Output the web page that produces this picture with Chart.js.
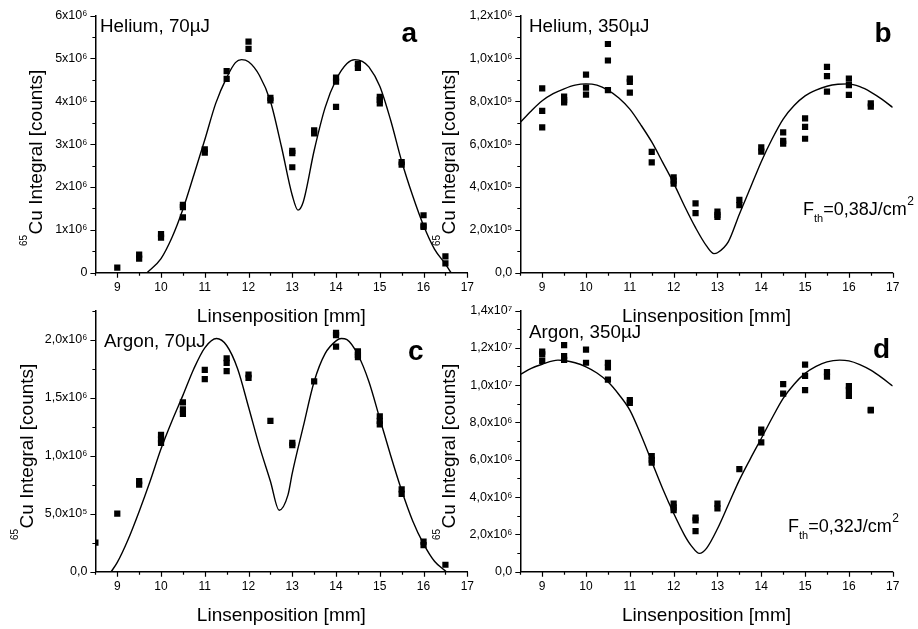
<!DOCTYPE html>
<html><head><meta charset="utf-8">
<script src="https://cdn.jsdelivr.net/npm/chart.js@4"></script>
<style>
html,body{margin:0;padding:0;background:#fff;}
#wrap{position:relative;width:918px;height:629px;overflow:hidden;background:#fff;}
canvas{position:absolute;left:0;top:0;}
</style></head><body>
<div id="wrap">
<canvas id="ca" width="918" height="629"></canvas>
<canvas id="cb" width="918" height="629"></canvas>
<canvas id="cc" width="918" height="629"></canvas>
<canvas id="cd" width="918" height="629"></canvas>
</div>
<script>
// ---------- data ----------
const xTickValues = [9, 10, 11, 12, 13, 14, 15, 16, 17];
const xTickLabels = ['9','10','11','12','13','14','15','16','17'];

// Panel a: Helium, 70µJ
const posA = [9, 9.5,9.5, 10,10, 10.5,10.5,10.5, 11,11, 11.5,11.5, 12,12, 12.5,12.5, 13,13,13, 13.5,13.5, 14,14,14, 14.5,14.5, 15,15,15, 15.5,15.5, 16,16,16, 16.5,16.5];
const countsA = [0.12e6, 0.42e6,0.33e6, 0.90e6,0.82e6, 1.58e6,1.53e6,1.29e6, 2.88e6,2.80e6, 4.70e6,4.52e6, 5.39e6,5.22e6, 4.08e6,4.02e6, 2.84e6,2.79e6,2.46e6, 3.32e6,3.25e6, 4.55e6,4.46e6,3.87e6, 4.87e6,4.78e6, 4.10e6,4.03e6,3.95e6, 2.58e6,2.52e6, 1.34e6,1.10e6,1.07e6, 0.38e6,0.22e6];
const fitPosA = [9.68,10,10.25,10.5,10.75,11,11.25,11.5,11.7,11.84,12,12.25,12.5,12.75,13,13.13,13.25,13.5,13.75,14,14.25,14.43,14.6,14.75,15,15.25,15.5,15.75,16,16.25,16.5,16.63];
const fitA = [0,0.33e6,0.82e6,1.48e6,2.28e6,3.1e6,3.95e6,4.55e6,4.9e6,4.97e6,4.92e6,4.6e6,4.0e6,2.95e6,1.8e6,1.46e6,1.65e6,2.85e6,3.85e6,4.5e6,4.88e6,4.97e6,4.93e6,4.8e6,4.35e6,3.55e6,2.6e6,1.8e6,1.1e6,0.55e6,0.2e6,0];
const yTickValuesA = [0, 1e6, 2e6, 3e6, 4e6, 5e6, 6e6];
const yTickLabelsA = ['0','1x10⁶','2x10⁶','3x10⁶','4x10⁶','5x10⁶','6x10⁶'];

// Panel b: Helium, 350µJ
const posB = [9,9,9, 9.5,9.5,9.5, 10,10,10, 10.5,10.5,10.5, 11,11,11, 11.5,11.5, 12,12,12, 12.5,12.5, 13,13,13, 13.5,13.5, 14,14, 14.5,14.5,14.5, 15,15,15, 15.5,15.5,15.5, 16,16,16, 16.5,16.5];
const countsB = [8.60e5,7.55e5,6.78e5, 8.22e5,8.05e5,7.95e5, 9.24e5,8.63e5,8.31e5, 10.67e5,9.90e5,8.52e5, 9.05e5,8.90e5,8.40e5, 5.64e5,5.15e5, 4.45e5,4.30e5,4.15e5, 3.23e5,2.78e5, 2.85e5,2.70e5,2.60e5, 3.40e5,3.15e5, 5.85e5,5.65e5, 6.55e5,6.15e5,6.02e5, 7.20e5,6.80e5,6.25e5, 9.60e5,9.17e5,8.45e5, 9.05e5,8.75e5,8.30e5, 7.90e5,7.75e5];
const fitPosB = [8.5,8.75,9,9.25,9.5,9.75,10,10.25,10.5,10.75,11,11.25,11.5,11.75,12,12.25,12.5,12.75,12.92,13.0,13.25,13.5,13.75,14,14.25,14.5,14.75,15,15.25,15.5,15.75,15.98,16.25,16.5,16.75,17];
const fitB = [7.02e5,7.55e5,8.02e5,8.35e5,8.58e5,8.75e5,8.81e5,8.75e5,8.52e5,8.15e5,7.63e5,6.9e5,6.1e5,5.15e5,4.18e5,3.1e5,2.1e5,1.25e5,0.89e5,0.93e5,1.45e5,2.73e5,3.95e5,5.18e5,6.25e5,7.17e5,7.8e5,8.25e5,8.52e5,8.7e5,8.79e5,8.81e5,8.68e5,8.43e5,8.1e5,7.71e5];
const yTickValuesB = [0, 2e5, 4e5, 6e5, 8e5, 1e6, 1.2e6];
const yTickLabelsB = ['0,0','2,0x10⁵','4,0x10⁵','6,0x10⁵','8,0x10⁵','1,0x10⁶','1,2x10⁶'];

// Panel c: Argon, 70µJ
const posC = [8.5, 9, 9.5,9.5, 10,10,10, 10.5,10.5,10.5, 11,11, 11.5,11.5,11.5, 12,12, 12.5, 13,13, 13.5, 14,14,14, 14.5,14.5,14.5, 15,15,15, 15.5,15.5, 16,16, 16.5];
const countsC = [0.25e6, 0.50e6, 0.78e6,0.75e6, 1.18e6,1.14e6,1.11e6, 1.46e6,1.40e6,1.36e6, 1.74e6,1.66e6, 1.84e6,1.80e6,1.73e6, 1.70e6,1.67e6, 1.30e6, 1.11e6,1.09e6, 1.64e6, 2.06e6,2.04e6,1.94e6, 1.90e6,1.87e6,1.85e6, 1.34e6,1.30e6,1.27e6, 0.71e6,0.67e6, 0.26e6,0.23e6, 0.06e6];
const fitPosC = [8.86,9,9.25,9.5,9.75,10,10.25,10.5,10.75,11,11.27,11.5,11.75,12,12.25,12.5,12.7,12.9,13,13.25,13.5,13.75,14,14.12,14.25,14.5,14.75,15,15.25,15.5,15.75,16,16.25,16.52];
const fitC = [0,0.08e6,0.28e6,0.52e6,0.78e6,1.06e6,1.3e6,1.52e6,1.75e6,1.93e6,2.01e6,1.95e6,1.75e6,1.42e6,1.08e6,0.78e6,0.53e6,0.66e6,0.85e6,1.25e6,1.64e6,1.88e6,1.99e6,2.01e6,2.0e6,1.87e6,1.64e6,1.32e6,1.0e6,0.7e6,0.44e6,0.24e6,0.09e6,0];
const yTickValuesC = [0, 0.5e6, 1e6, 1.5e6, 2e6];
const yTickLabelsC = ['0,0','5,0x10⁵','1,0x10⁶','1,5x10⁶','2,0x10⁶'];

// Panel d: Argon, 350µJ
const posD = [9,9,9, 9.5,9.5,9.5, 10,10, 10.5,10.5,10.5, 11,11, 11.5,11.5,11.5, 12,12,12, 12.5,12.5,12.5, 13,13, 13.5, 14,14,14, 14.5,14.5, 15,15,15, 15.5,15.5, 16,16,16, 16.5,16.5];
const countsD = [11.80e6,11.65e6,11.30e6, 12.15e6,11.55e6,11.35e6, 11.90e6,11.20e6, 11.20e6,10.95e6,10.30e6, 9.20e6,9.05e6, 6.20e6,6.00e6,5.85e6, 3.65e6,3.45e6,3.30e6, 2.90e6,2.75e6,2.18e6, 3.65e6,3.40e6, 5.50e6, 7.62e6,7.45e6,6.93e6, 10.05e6,9.55e6, 11.10e6,10.50e6,9.73e6, 10.70e6,10.45e6, 9.95e6,9.75e6,9.42e6, 8.68e6,8.64e6];
const fitPosD = [8.5,8.75,9,9.36,9.5,9.75,10,10.25,10.5,10.75,11,11.25,11.5,11.75,12,12.25,12.4,12.59,12.75,13,13.25,13.5,13.75,14,14.25,14.5,14.75,15,15.25,15.5,15.79,16,16.25,16.5,16.75,17];
const fitD = [10.57e6,10.9e6,11.12e6,11.34e6,11.32e6,11.2e6,10.98e6,10.65e6,10.18e6,9.5e6,8.66e6,7.35e6,5.9e6,4.45e6,3.13e6,1.95e6,1.4e6,0.98e6,1.25e6,2.3e6,3.6e6,4.91e6,6.05e6,7.14e6,8.25e6,9.29e6,10.05e6,10.63e6,11.0e6,11.25e6,11.34e6,11.3e6,11.1e6,10.8e6,10.4e6,9.95e6];
const yTickValuesD = [0, 2e6, 4e6, 6e6, 8e6, 1e7, 1.2e7, 1.4e7];
const yTickLabelsD = ['0,0','2,0x10⁶','4,0x10⁶','6,0x10⁶','8,0x10⁶','1,0x10⁷','1,2x10⁷','1,4x10⁷'];

// ---------- drawing ----------
const FF = "'Liberation Sans', Arial, Helvetica, sans-serif";
Chart.defaults.font.family = FF;
Chart.defaults.color = '#000';

const tickMarks = {
  id: 'tickMarks',
  afterDraw(chart, args, o) {
    const ctx = chart.ctx, xs = chart.scales.x, ys = chart.scales.y, a = chart.chartArea;
    const isMult = (v, s) => Math.abs(v / s - Math.round(v / s)) < 1e-6;
    ctx.save();
    ctx.strokeStyle = '#000'; ctx.lineWidth = 1.2;
    ctx.beginPath();
    const nx = Math.round((xs.max - xs.min) / o.xMinor);
    for (let i = 0; i <= nx; i++) {
      const v = xs.min + i * o.xMinor;
      const px = Math.round(xs.getPixelForValue(v)) + 0.5;
      const len = isMult(v, o.xMajor) ? 5 : 3;
      ctx.moveTo(px, a.bottom); ctx.lineTo(px, a.bottom + len);
    }
    const ny = Math.round((ys.max - ys.min) / o.yMinor);
    for (let i = 0; i <= ny; i++) {
      const v = ys.min + i * o.yMinor;
      const py = Math.round(ys.getPixelForValue(v)) + 0.5;
      const len = isMult(v, o.yMajor) ? 5 : 3;
      ctx.moveTo(a.left, py); ctx.lineTo(a.left - len, py);
    }
    ctx.stroke();
    ctx.restore();
  }
};

const panelText = {
  id: 'panelText',
  afterDraw(chart, args, o) {
    const ctx = chart.ctx, a = chart.chartArea;
    ctx.save();
    ctx.fillStyle = '#000'; ctx.textBaseline = 'alphabetic'; ctx.textAlign = 'left';
    ctx.font = `18.8px ${FF}`;
    ctx.fillText(o.label, o.labelX, o.labelY);
    ctx.font = `bold 28px ${FF}`;
    ctx.fillText(o.letter, o.letterX, o.letterY);
    if (o.fth) {
      let x = o.fthX; const y = o.fthY;
      ctx.font = `18px ${FF}`; ctx.fillText('F', x, y); x += ctx.measureText('F').width;
      ctx.font = `11px ${FF}`; ctx.fillText('th', x, y + 7); x += ctx.measureText('th').width;
      ctx.font = `18px ${FF}`; ctx.fillText(o.fth, x, y); x += ctx.measureText(o.fth).width;
      ctx.font = `12px ${FF}`; ctx.fillText('2', x + 0.5, y - 10);
    }
    ctx.font = `19px ${FF}`; ctx.textAlign = 'center';
    ctx.fillText(o.xTitle, (a.left + a.right) / 2, a.bottom + 49);
    ctx.translate(o.yTitleX, o.yTitleY);
    ctx.rotate(-Math.PI / 2);
    ctx.textAlign = 'left';
    ctx.font = `10px ${FF}`;
    const w0 = ctx.measureText(o.ySup).width;
    ctx.fillText(o.ySup, 0, -15);
    ctx.font = `19px ${FF}`;
    ctx.fillText(o.yMain, w0 + 0.5, 0);
    ctx.restore();
  }
};

function makePanel(id, p) {
  return new Chart(document.getElementById(id), {
    type: 'scatter',
    data: {
      datasets: [
        {
          type: 'line',
          data: p.fitPos.map((x, i) => ({ x: x, y: p.fit[i] })),
          borderColor: '#000', borderWidth: 1.4, pointRadius: 0, fill: false,
          cubicInterpolationMode: 'monotone'
        },
        {
          type: 'scatter',
          data: p.pos.map((x, i) => ({ x: x, y: p.counts[i] })),
          pointStyle: 'rect', pointRadius: 4.4,
          pointBackgroundColor: '#000', pointBorderColor: '#000', pointBorderWidth: 0,
          clip: 0
        }
      ]
    },
    options: {
      responsive: false, animation: false, devicePixelRatio: 1,
      layout: { padding: p.pad },
      events: [],
      plugins: {
        legend: { display: false }, tooltip: { enabled: false },
        tickMarks: { xMajor: 1, xMinor: 0.5, yMajor: p.yStep, yMinor: p.yMinor },
        panelText: p.text
      },
      scales: {
        x: {
          type: 'linear', min: 8.5, max: 17,
          afterFit(s) { s.height = 30; },
          afterBuildTicks(s) { s.ticks = xTickValues.map(v => ({ value: v })); },
          grid: { display: false, drawTicks: false },
          border: { display: true, color: '#000', width: 1.5 },
          ticks: {
            autoSkip: false, maxRotation: 0, minRotation: 0, padding: 8,
            color: '#000', font: { size: 12 },
            callback: (v) => { const i = xTickValues.indexOf(v); return i >= 0 ? xTickLabels[i] : ''; }
          }
        },
        y: {
          type: 'linear', min: 0, max: p.yMax,
          afterFit(s) { s.width = 60; },
          afterBuildTicks(s) { s.ticks = p.yTicks.map(v => ({ value: v })); },
          grid: { display: false, drawTicks: false },
          border: { display: true, color: '#000', width: 1.5 },
          ticks: {
            autoSkip: false, padding: 8, color: '#000', font: { size: 12.5 },
            callback: (v) => {
              const i = p.yTicks.findIndex(t => Math.abs(t - v) < 1e-6 * p.yStep);
              return i >= 0 ? p.yLabels[i] : '';
            }
          }
        }
      }
    },
    plugins: [tickMarks, panelText]
  });
}

const X_TITLE = 'Linsenposition [mm]';
makePanel('ca', {
  pos: posA, counts: countsA, fitPos: fitPosA, fit: fitA,
  yMax: 6e6, yStep: 1e6, yMinor: 0.5e6, yTicks: yTickValuesA, yLabels: yTickLabelsA,
  pad: { left: 35.4, right: 450.7, top: 11.7, bottom: 326.3 },
  text: { label: 'Helium, 70µJ', labelX: 100, labelY: 32.3, letter: 'a', letterX: 401.5, letterY: 41.5,
          xTitle: X_TITLE, yTitleX: 41.7, yTitleY: 246, ySup: '65', yMain: 'Cu Integral [counts]' }
});
makePanel('cb', {
  pos: posB, counts: countsB, fitPos: fitPosB, fit: fitB,
  yMax: 1.2e6, yStep: 2e5, yMinor: 1e5, yTicks: yTickValuesB, yLabels: yTickLabelsB,
  pad: { left: 460.3, right: 25.3, top: 11.7, bottom: 326.3 },
  text: { label: 'Helium, 350µJ', labelX: 529, labelY: 32.3, letter: 'b', letterX: 874.5, letterY: 41.5,
          fth: '=0,38J/cm', fthX: 803, fthY: 215,
          xTitle: X_TITLE, yTitleX: 455, yTitleY: 246, ySup: '65', yMain: 'Cu Integral [counts]' }
});
makePanel('cc', {
  pos: posC, counts: countsC, fitPos: fitPosC, fit: fitC,
  yMax: 2.25e6, yStep: 5e5, yMinor: 2.5e5, yTicks: yTickValuesC, yLabels: yTickLabelsC,
  pad: { left: 35.4, right: 450.7, top: 310.7, bottom: 27.3 },
  text: { label: 'Argon, 70µJ', labelX: 104, labelY: 346.7, letter: 'c', letterX: 408, letterY: 360,
          xTitle: X_TITLE, yTitleX: 33.3, yTitleY: 540, ySup: '65', yMain: 'Cu Integral [counts]' }
});
makePanel('cd', {
  pos: posD, counts: countsD, fitPos: fitPosD, fit: fitD,
  yMax: 1.4e7, yStep: 2e6, yMinor: 1e6, yTicks: yTickValuesD, yLabels: yTickLabelsD,
  pad: { left: 460.3, right: 25.3, top: 310.5, bottom: 27.3 },
  text: { label: 'Argon, 350µJ', labelX: 529, labelY: 338.3, letter: 'd', letterX: 873, letterY: 358.3,
          fth: '=0,32J/cm', fthX: 788, fthY: 532,
          xTitle: X_TITLE, yTitleX: 455, yTitleY: 540, ySup: '65', yMain: 'Cu Integral [counts]' }
});
</script>
</body></html>
